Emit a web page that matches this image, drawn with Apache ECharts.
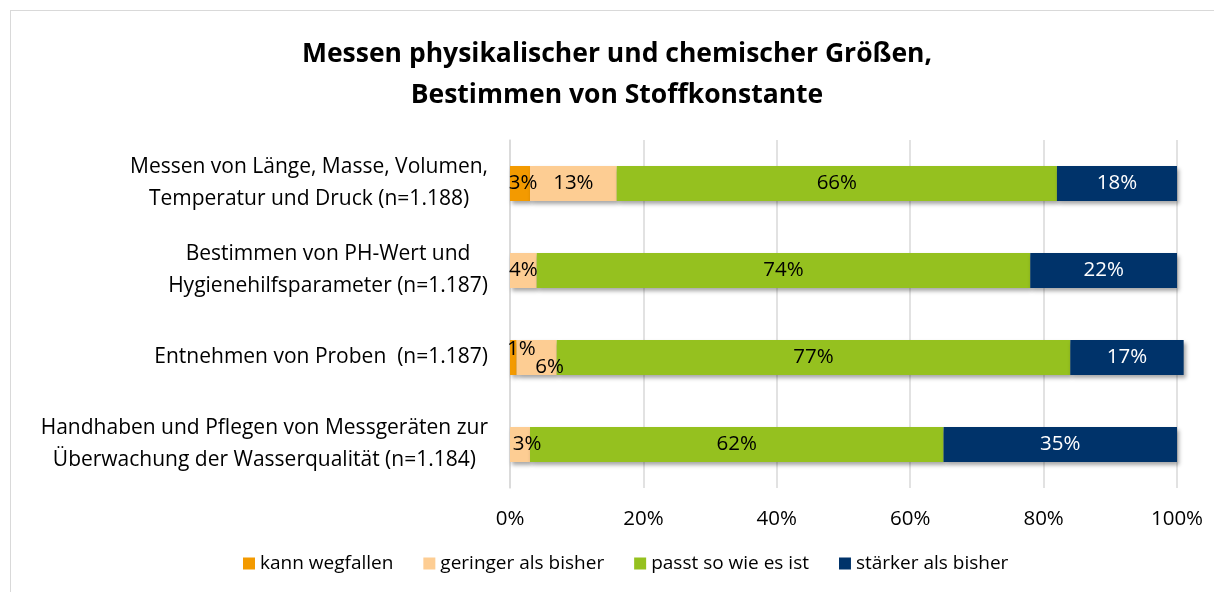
<!DOCTYPE html>
<html>
<head>
<meta charset="utf-8">
<script src="https://cdn.jsdelivr.net/npm/echarts@6/dist/echarts.min.js"></script>
<style>
  html, body { margin: 0; padding: 0; background: #fff; }
  #frame { position: absolute; left: 10px; top: 10px; width: 1204px; height: 590px; border: 1px solid #d9d9d9; border-right: none; border-bottom: none; box-sizing: border-box; }
  #chart { width: 1215px; height: 592px; }
</style>
</head>
<body>
<div id="frame"></div>
<div id="chart"></div>
<script>
// Kategorien (von oben nach unten)
const categories = [
  "Messen von Länge, Masse, Volumen,\nTemperatur und Druck (n=1.188)",
  "Bestimmen von PH-Wert und\nHygienehilfsparameter (n=1.187)",
  "Entnehmen von Proben  (n=1.187)",
  "Handhaben und Pflegen von Messgeräten zur\nÜberwachung der Wasserqualität (n=1.184)",
];

const seriesNames = ["kann wegfallen", "geringer als bisher", "passt so wie es ist", "stärker als bisher"];
const kannWegfallen = [3, 0, 1, 0];
const geringer = [13, 4, 6, 3];
const passt = [66, 74, 77, 62];
const staerker = [18, 22, 17, 35];

const xTicks = [0, 20, 40, 60, 80, 100];

const COLORS = ["#f39a00", "#fdcd93", "#95c11f", "#00336a"];
const FONT = "'Open Sans', sans-serif";

// Excel verschiebt überlappende Beschriftungen in der dritten Zeile
const labelNudge = {
  "0-2": [8, -8],
  "1-2": [13, 10],
  "1-3": [7, 0],
  "0-0": [3, 0],
};

const chart = echarts.init(document.getElementById("chart"));

function buildSeries() {
  const values = [kannWegfallen, geringer, passt, staerker];
  return values.map((data, si) => ({
    name: seriesNames[si],
    type: "bar",
    stack: "total",
    barWidth: 35,
    clip: false,
    data: data.map((v, ci) => {
      const nudge = labelNudge[`${si}-${ci}`];
      return nudge ? { value: v, label: { offset: nudge } } : v;
    }),
    itemStyle: {
      color: COLORS[si],
      shadowColor: "rgba(0,0,0,0.35)",
      shadowBlur: 4,
      shadowOffsetX: 2,
      shadowOffsetY: 3,
    },
    label: {
      show: true,
      position: "inside",
      fontFamily: FONT,
      fontSize: 20.5,
      color: si === 3 ? "#ffffff" : "#000000",
      formatter: ({ value }) => (value > 0 ? `${value}%` : ""),
    },
  }));
}

chart.setOption({
  animation: false,
  title: {
    text: "Messen physikalischer und chemischer Größen,\nBestimmen von Stoffkonstante",
    left: 612,
    top: 29,
    textAlign: "center",
    textStyle: { fontFamily: FONT, fontSize: 26.5, fontWeight: "bold", color: "#000", lineHeight: 41 },
  },
  legend: {
    bottom: 14,
    left: 238,
    icon: "rect",
    itemWidth: 12,
    itemHeight: 12,
    itemGap: 30,
    textStyle: { fontFamily: FONT, fontSize: 19, color: "#000" },
    data: seriesNames,
  },
  grid: { left: 510, right: 38, top: 140, bottom: 104 },
  xAxis: {
    type: "value",
    min: 0,
    max: 100,
    interval: 20,
    axisLine: { show: false },
    axisTick: { show: false },
    splitLine: { lineStyle: { color: "#d9d9d9", width: 1.5 } },
    axisLabel: {
      fontFamily: FONT,
      fontSize: 20.5,
      color: "#000",
      margin: 21,
      formatter: (v) => (xTicks.includes(v) ? `${v}%` : ""),
    },
  },
  yAxis: {
    type: "category",
    inverse: true,
    data: categories,
    axisLine: { lineStyle: { color: "#d9d9d9", width: 1.5 } },
    axisTick: { length: 7, lineStyle: { color: "#d9d9d9", width: 1.5 } },
    axisLabel: {
      margin: 22,
      formatter: (v) => v.split("\n").map((l) => `{t|${l}}`).join("\n"),
      rich: {
        t: { fontFamily: FONT, fontSize: 21, color: "#000", align: "center", lineHeight: 32 },
      },
    },
  },
  series: buildSeries(),
});
</script>
</body>
</html>
